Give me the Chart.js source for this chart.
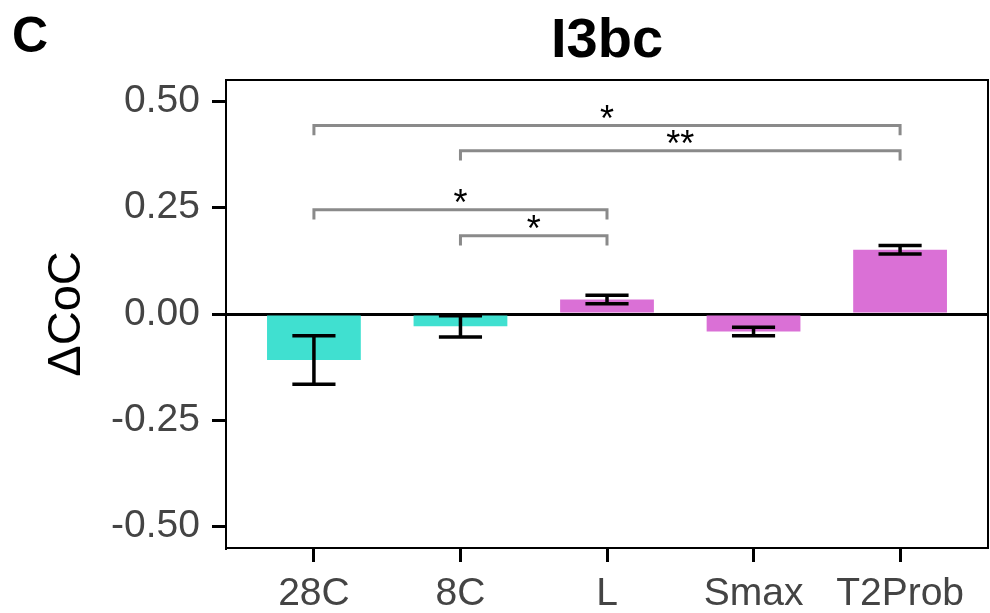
<!DOCTYPE html>
<html>
<head>
<meta charset="utf-8">
<script src="https://cdn.jsdelivr.net/npm/chart.js@4.4.1/dist/chart.umd.min.js"></script>
<style>
  html, body { margin: 0; padding: 0; background: #fff; }
</style>
</head>
<body>
<canvas id="canvas" width="990" height="613"></canvas>
<script>
// values
var labels = ['28C', '8C', 'L', 'Smax', 'T2Prob'];
var means = [-0.108, -0.029, 0.034, -0.041, 0.151];
var errs = [0.057, 0.025, 0.010, 0.010, 0.010];
var yTicks = [-0.5, -0.25, 0, 0.25, 0.5];
// significance brackets: from, to, height, mark
var brackets = [
  [0, 4, 0.443, '*'],
  [1, 4, 0.384, '**'],
  [0, 2, 0.245, '*'],
  [1, 2, 0.184, '*']
];

var turquoise = '#40E0D0';
var orchid = '#DA70D6';
var barColors = [turquoise, turquoise, orchid, orchid, orchid];

var extras = {
  id: 'extras',
  afterDatasetsDraw: function(chart) {
    var ctx = chart.ctx;
    var xs = chart.scales.x, ys = chart.scales.y;
    var area = chart.chartArea;
    var meta = chart.getDatasetMeta(0);
    ctx.save();

    // error bars
    ctx.strokeStyle = '#000';
    ctx.lineWidth = 3.5;
    for (var i = 0; i < means.length; i++) {
      var bar = meta.data[i];
      var cx = bar.x;
      var half = bar.width * 0.23;
      var top = ys.getPixelForValue(means[i] + errs[i]);
      var bot = ys.getPixelForValue(means[i] - errs[i]);
      ctx.beginPath();
      ctx.moveTo(cx, top); ctx.lineTo(cx, bot);
      ctx.moveTo(cx - half, top); ctx.lineTo(cx + half, top);
      ctx.moveTo(cx - half, bot); ctx.lineTo(cx + half, bot);
      ctx.stroke();
    }

    // brackets
    ctx.strokeStyle = '#8a8a8a';
    ctx.lineWidth = 3;
    ctx.fillStyle = '#000';
    ctx.font = '36px "Liberation Sans", Arial, sans-serif';
    ctx.textAlign = 'center';
    ctx.textBaseline = 'alphabetic';
    brackets.forEach(function(b) {
      var x1 = xs.getPixelForValue(b[0]);
      var x2 = xs.getPixelForValue(b[1]);
      var y = ys.getPixelForValue(b[2]);
      var leg = ys.getPixelForValue(b[2] - 0.023);
      ctx.beginPath();
      ctx.moveTo(x1, leg); ctx.lineTo(x1, y); ctx.lineTo(x2, y); ctx.lineTo(x2, leg);
      ctx.stroke();
      ctx.fillText(b[3], (x1 + x2) / 2, y + 5);
    });

    // top and right border of the panel
    ctx.strokeStyle = '#000';
    ctx.lineWidth = 2;
    ctx.beginPath();
    ctx.moveTo(area.left, area.top);
    ctx.lineTo(area.right, area.top);
    ctx.lineTo(area.right, area.bottom);
    ctx.stroke();

    // titles
    ctx.fillStyle = '#000';
    ctx.font = 'bold 56px "Liberation Sans", Arial, sans-serif';
    ctx.textBaseline = 'middle';
    ctx.fillText('I3bc', (area.left + area.right) / 2, 42);
    ctx.font = 'bold 50px "Liberation Sans", Arial, sans-serif';
    ctx.fillText('C', 30, 38);
    ctx.restore();
  }
};

var ctx = document.getElementById('canvas').getContext('2d');
window.myBar = new Chart(ctx, {
  type: 'bar',
  data: {
    datasets: [{
      data: means.map(function(v, i) { return { x: i, y: v }; }),
      backgroundColor: barColors,
      borderWidth: 0,
      categoryPercentage: 0.8,
      barPercentage: 0.8
    }]
  },
  options: {
    responsive: false,
    animation: false,
    layout: { padding: { top: 80, right: 2, left: 0, bottom: 0 } },
    plugins: {
      legend: { display: false },
      tooltip: { enabled: false }
    },
    scales: {
      x: {
        type: 'linear',
        min: -0.6,
        max: 4.6,
        offset: false,
        afterBuildTicks: function(s) {
          s.ticks = labels.map(function(l, i) { return { value: i }; });
        },
        afterFit: function(s) { s.height = 65; },
        ticks: {
          callback: function(v) { return labels[v]; },
          color: '#444',
          font: { size: 39, family: '"Liberation Sans", Arial, sans-serif' },
          padding: 9,
          maxRotation: 0,
          autoSkip: false
        },
        grid: {
          offset: false,
          drawOnChartArea: false,
          tickLength: 14,
          tickColor: '#000',
          tickWidth: 3
        },
        border: { color: '#000', width: 2 }
      },
      y: {
        min: -0.55,
        max: 0.55,
        afterBuildTicks: function(s) {
          s.ticks = yTicks.map(function(v) { return { value: v }; });
        },
        afterFit: function(s) { s.width = 226; },
        ticks: {
          callback: function(v) { return v.toFixed(2); },
          color: '#444',
          font: { size: 39, family: '"Liberation Sans", Arial, sans-serif' },
          padding: 12
        },
        grid: {
          color: function(c) { return c.tick && c.tick.value === 0 ? '#000' : 'rgba(0,0,0,0)'; },
          lineWidth: 3,
          tickLength: 14,
          tickColor: '#000',
          tickWidth: 3
        },
        border: { color: '#000', width: 2 },
        title: {
          display: true,
          text: 'ΔCoC',
          color: '#000',
          font: { size: 47, family: '"Liberation Sans", Arial, sans-serif' },
          padding: { top: 39, bottom: 0 }
        }
      }
    }
  },
  plugins: [extras]
});
</script>
</body>
</html>
